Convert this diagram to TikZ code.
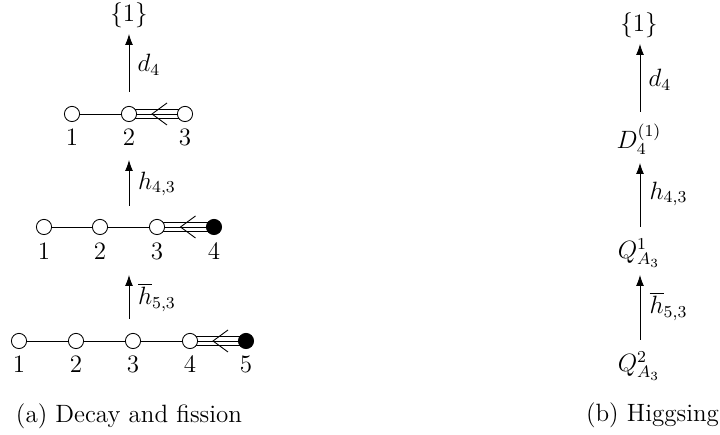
\documentclass[tikz,border=0pt]{standalone}
\usetikzlibrary{arrows.meta,calc,backgrounds}
\newcommand{\pxu}{0.4792pt}
\tikzset{
  x=\pxu, y=-\pxu,
  dot/.style={circle,draw,fill=white,line width=0.42pt,minimum size=15.2*\pxu,inner sep=0pt},
  fulldot/.style={dot,fill=black},
  lbl/.style={inner sep=0pt,font=\fontsize{11.8}{14}\selectfont},
  captiontext/.style={inner sep=0pt,font=\fontsize{12}{14}\selectfont},
  link/.style={line width=0.42pt},
  arr/.style={line width=0.42pt,-{Latex[length=11*\pxu,width=8*\pxu]}},
}
\newcommand{\triplelink}[2]{%
  \begin{scope}[on background layer]
    \draw[link] (#1) -- (#2);
    \draw[link] ([yshift=4.2*\pxu]#1.center) -- ([yshift=4.2*\pxu]#2.center);
    \draw[link] ([yshift=-4.2*\pxu]#1.center) -- ([yshift=-4.2*\pxu]#2.center);
  \end{scope}
  \draw[link] ($(#1)!0.5!(#2)+(10,-11)$) -- ($(#1)!0.5!(#2)+(-5,0)$) -- ($(#1)!0.5!(#2)+(10,11)$);
}
\begin{document}
\begin{tikzpicture}
\useasboundingbox (0,0) rectangle (720,435);
% left, top
\node[lbl] (top) at (129,15) {$\{1\}$};
\node[dot] (a1) at (72,114) {}; \node[dot] (a2) at (129,114) {}; \node[dot] (a3) at (185,114) {};
\node[lbl] (la1) at (72,137) {$1$}; \node[lbl] (la2) at (129,137) {$2$}; \node[lbl] (la3) at (185,137) {$3$};
\draw[link] (a1) -- (a2);
\triplelink{a2}{a3}
% left, middle
\node[dot] (b1) at (44,227) {}; \node[dot] (b2) at (100,227) {}; \node[dot] (b3) at (157,227) {}; \node[fulldot] (b4) at (214,227) {};
\node[lbl] (lb1) at (44,251) {$1$}; \node[lbl] (lb2) at (100,251) {$2$}; \node[lbl] (lb3) at (157,251) {$3$}; \node[lbl] (lb4) at (214,251) {$4$};
\draw[link] (b1) -- (b2); \draw[link] (b2) -- (b3);
\triplelink{b3}{b4}
% left, bottom
\node[dot] (c1) at (19,341) {}; \node[dot] (c2) at (76,341) {}; \node[dot] (c3) at (133,341) {}; \node[dot] (c4) at (190,341) {}; \node[fulldot] (c5) at (246,341) {};
\node[lbl] (lc1) at (19,364) {$1$}; \node[lbl] (lc2) at (76,364) {$2$}; \node[lbl] (lc3) at (133,364) {$3$}; \node[lbl] (lc4) at (190,364) {$4$}; \node[lbl] (lc5) at (246,364) {$5$};
\draw[link] (c1) -- (c2); \draw[link] (c2) -- (c3); \draw[link] (c3) -- (c4);
\triplelink{c4}{c5}
% left arrows
\coordinate (s1) at (129,92); \coordinate (e1) at (129,34);
\coordinate (s2) at (129,206); \coordinate (e2) at (129,160);
\coordinate (s3) at (129,319); \coordinate (e3) at (129,275);
\draw[arr] (s1) -- (e1); \draw[arr] (s2) -- (e2); \draw[arr] (s3) -- (e3);
\node[lbl] (m1) at (149,65) {$d_4$};
\node[lbl] (m2) at (157,184) {$h_{4,3}$};
\node[lbl] (m3) at (157,297) {$\overline{h}_{5,3}$};
\node[captiontext] (capa) at (129,416) {(a) Decay and fission};
% right
\node[lbl] (rtop) at (639,25) {$\{1\}$};
\node[lbl] (rd) at (639,139) {$D_4^{(1)}$};
\node[lbl] (rq1) at (639,253) {$Q^1_{A_3}$};
\node[lbl] (rq2) at (639,366) {$Q^2_{A_3}$};
\coordinate (rs1) at (640,112); \coordinate (re1) at (640,44);
\coordinate (rs2) at (640,227); \coordinate (re2) at (640,163);
\coordinate (rs3) at (640,340); \coordinate (re3) at (640,275);
\draw[arr] (rs1) -- (re1); \draw[arr] (rs2) -- (re2); \draw[arr] (rs3) -- (re3);
\node[lbl] (n1) at (660,80) {$d_4$};
\node[lbl] (n2) at (668.5,194) {$h_{4,3}$};
\node[lbl] (n3) at (668.5,306) {$\overline{h}_{5,3}$};
\node[captiontext] (capb) at (652.5,415) {(b) Higgsing};
\end{tikzpicture}
\end{document}
